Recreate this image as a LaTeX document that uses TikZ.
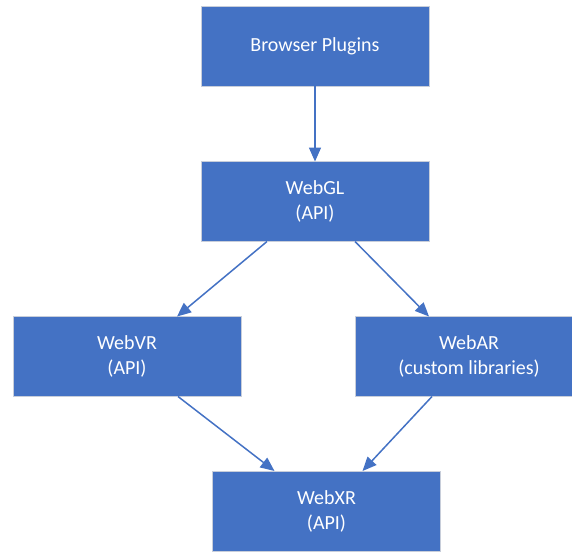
\documentclass[tikz,border=0pt]{standalone}
\usepackage{fontspec}
\setmainfont{Carlito}
\usetikzlibrary{arrows.meta, positioning}
\definecolor{officeblue}{RGB}{68,114,196}
\definecolor{boxrim}{RGB}{200,206,218}

\begin{document}
\begin{tikzpicture}[x=0.5pt, y=-0.5pt,
    >={Triangle[length=7pt,width=6pt]},
    block/.style={rectangle, fill=officeblue, draw=boxrim, line width=0.5pt,
      minimum width=114pt, minimum height=40pt, inner sep=0pt, outer sep=0pt,
      align=center, text=white, font=\fontsize{10}{12.5}\selectfont},
    flow/.style={->, draw=officeblue, line width=0.75pt}]
  \useasboundingbox (0,0) rectangle (572,552);
  % boxes, placed at the pixel positions of the sketch
  \node[block] (plugins) at (315,46)    {Browser Plugins};
  \node[block] (webgl)   at (315,201.5) {WebGL\\(API)};
  \node[block] (webvr)   at (127,356.5) {WebVR\\(API)};
  \node[block] (webar)   at (469,356.5) {WebAR\\(custom libraries)};
  \node[block] (webxr)   at (326.5,511) {WebXR\\(API)};
  % arrows between the boxes
  \draw[flow] (plugins) -- (webgl);
  \draw[flow] ([xshift=-24pt]webgl.south) -- ([xshift=25pt]webvr.north);
  \draw[flow] ([xshift=20pt]webgl.south) -- ([xshift=-20pt]webar.north);
  \draw[flow] ([xshift=25.5pt]webvr.south) -- ([xshift=-26pt]webxr.north);
  \draw[flow] ([xshift=-18.5pt]webar.south) -- ([xshift=18pt]webxr.north);
\end{tikzpicture}
\end{document}
